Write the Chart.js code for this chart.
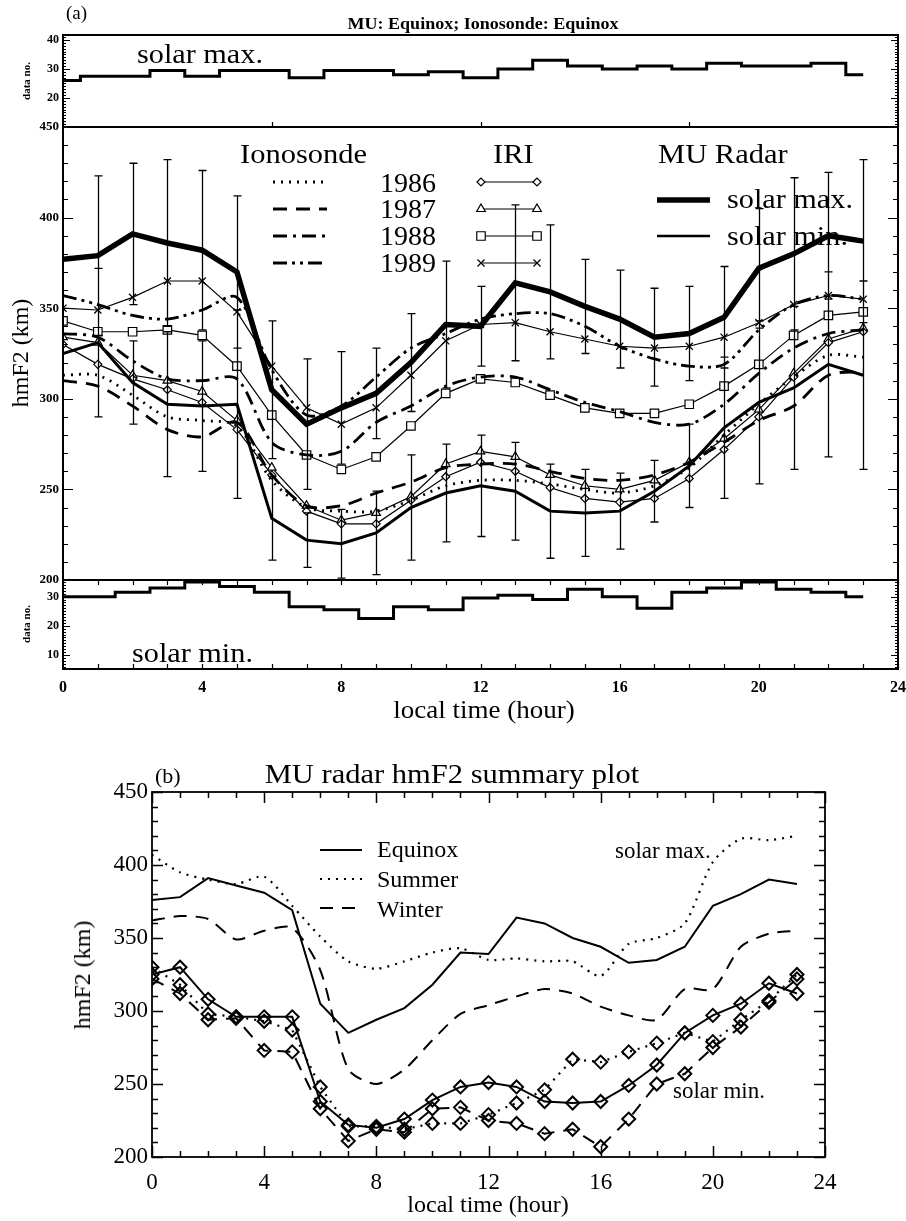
<!DOCTYPE html>
<html>
<head>
<meta charset="utf-8">
<script src="https://cdn.jsdelivr.net/npm/chart.js@4.4.0/dist/chart.umd.min.js"></script>
<style>
  body { margin: 0; background: #fff; }
  #page { position: relative; width: 906px; height: 1221px; overflow: hidden; font-family: "Liberation Serif", serif; color: #000; }
  canvas { position: absolute; left: 0; }
  .t { position: absolute; white-space: nowrap; line-height: 1; }
</style>
</head>
<body>
<div id="page">
  <canvas id="cTop" width="906" height="107" style="top:20px"></canvas>
  <canvas id="cMid" width="906" height="477" style="top:115px"></canvas>
  <canvas id="cBot" width="906" height="130" style="top:580px"></canvas>
  <canvas id="cSum" width="906" height="420" style="top:780px"></canvas>
</div>
<script>
// ---------- DATA ----------
const hours = [0, 1, 2, 3, 4, 5, 6, 7, 8, 9, 10, 11, 12, 13, 14, 15, 16, 17, 18, 19, 20, 21, 22, 23];

// (a) number of data per hour
const dataNoMax = [26, 27.5, 27.5, 29.5, 27.5, 29.5, 29.5, 27, 29.5, 29.5, 28, 29, 27, 30, 33, 31, 30, 31, 30, 32, 31, 31, 32, 28];
const dataNoMin = [30, 30, 31.5, 33, 35, 33.5, 31.5, 26.5, 25.5, 22.5, 26.5, 25.5, 29.5, 30.5, 29, 32.5, 30, 26, 31.5, 33, 35, 32.5, 31.5, 30];

// (a) MU radar hmF2 with error bars (km)
const muMax    = [377, 379, 391, 386, 382, 370, 305, 286, 295, 303, 320, 341, 340, 364, 359, 351, 344, 334, 336, 345, 372, 380, 390, 387];
const muMaxErr = [null, 44, 39, 46, 44, 42, 38, 36, 31, 25, 27, 35, 22, 43, 37, 26, 27, 27, 26, 28, 33, 42, 35, 45];
const muMin    = [325, 331, 309, 297, 296, 297, 234, 222, 220, 226, 240, 248, 252, 249, 238, 237, 238, 249, 263, 284, 298, 306, 319, 313];
const muMinErr = [null, 41, 23, 40, 36, 52, 23, 15, 19, 23, 29, 27, 28, 27, 26, 24, 21, 17, 23, 39, 45, 45, 51, 52];

// (a) Ionosonde
const iono1986 = [313, 313, 302, 290, 288, 285, 255, 240, 238, 238, 244, 252, 255, 255, 253, 250, 248, 252, 262, 280, 297, 312, 324, 323];
const iono1987 = [310, 307, 296, 283, 279, 287, 258, 241, 241, 248, 254, 262, 264, 264, 260, 256, 255, 258, 265, 276, 288, 296, 313, 315];
const iono1988 = [336, 334, 321, 311, 310, 311, 276, 269, 271, 287, 296, 307, 312, 312, 305, 298, 293, 287, 286, 297, 314, 328, 336, 338];
const iono1989 = [357, 352, 346, 344, 349, 356, 316, 291, 296, 312, 328, 336, 344, 347, 347, 340, 329, 322, 318, 319, 338, 352, 357, 355];

// (a) IRI
const iri1986 = [330, 319, 311, 305, 298, 283, 258, 238, 231, 231, 244, 257, 265, 260, 251, 245, 243, 245, 256, 272, 290, 312, 331, 337];
const iri1987 = [334, 331, 313, 310, 304, 288, 262, 241, 233, 237, 246, 264, 271, 268, 258, 252, 250, 255, 265, 278, 294, 314, 333, 339];
const iri1988 = [343, 337, 337, 338, 335, 318, 291, 269, 261, 268, 285, 303, 311, 309, 302, 295, 292, 292, 297, 307, 319, 335, 346, 348];
const iri1989 = [350, 349, 356, 365, 365, 348, 318, 295, 286, 295, 313, 332, 341, 342, 337, 333, 329, 328, 329, 334, 342, 352, 357, 355];

// (b) summary
const eqMax  = [376, 378, 391, 386, 381, 369, 305, 285, 294, 302, 318, 340, 339, 364, 360, 350, 344, 333, 335, 344, 372, 380, 390, 387];
const sumMax = [407, 395, 390, 387, 392, 372, 351, 334, 329, 334, 340, 343, 335, 336, 334, 334, 324, 346, 350, 360, 402, 418, 417, 420];
const winMax = [362, 365, 363, 349, 355, 357, 328, 260, 250, 260, 280, 298, 304, 310, 315, 312, 303, 297, 294, 315, 315, 344, 353, 355];
const eqMin  = [325, 330, 308, 296, 296, 296, 238, 222, 220, 226, 239, 248, 251, 248, 238, 237, 238, 249, 263, 285, 297, 305, 319, 312];
const sumMin = [330, 318, 298, 296, 293, 287, 248, 221, 221, 219, 223, 223, 229, 237, 246, 267, 265, 272, 278, 285, 279, 294, 307, 325];
const winMin = [322, 312, 294, 295, 273, 272, 233, 211, 219, 217, 233, 234, 225, 223, 216, 219, 207, 226, 250, 257, 275, 289, 306, 322];

const DOT = [2, 6];
const DASH = [14, 9];
const DASHDOT = [14, 6, 3, 6];
const DASHDOTDOT = [14, 5, 3, 5, 3, 5];

Chart.defaults.font.family = '"Liberation Serif", serif';
Chart.defaults.color = '#000';
Chart.defaults.animation = false;

// ---------- HELPERS ----------
const pts = arr => hours.map((h, i) => ({ x: h, y: arr[i] }));

function line(arr, o) {
  return Object.assign({
    data: pts(arr), borderColor: '#000', backgroundColor: '#000', borderWidth: 2,
    pointRadius: 0, fill: false, tension: 0
  }, o);
}

function xScale(show, size, bold, h, pad) {
  return {
    type: 'linear', min: 0, max: 24, display: show,
    grid: { display: false, drawTicks: false }, border: { display: false },
    ticks: { stepSize: 4, autoSkip: false, maxRotation: 0, padding: pad, color: '#000',
             font: { size: size, weight: bold ? 'bold' : 'normal' } },
    afterFit(s) { s.height = h; s.paddingLeft = 0; s.paddingRight = 0; }
  };
}

function yScale(min, max, step, w, size, bold, cb) {
  return {
    type: 'linear', min: min, max: max,
    grid: { display: false, drawTicks: false }, border: { display: false },
    ticks: { stepSize: step, autoSkip: false, includeBounds: false, padding: 4, color: '#000',
             font: { size: size, weight: bold ? 'bold' : 'normal' }, callback: cb },
    afterFit(s) { s.width = w; s.paddingTop = 0; s.paddingBottom = 0; }
  };
}

// box and inward tick marks
function makeFrame(cfg) {
  return {
    id: 'frame',
    afterDatasetsDraw(chart) {
      const ctx = chart.ctx, a = chart.chartArea, sx = chart.scales.x, sy = chart.scales.y;
      ctx.save();
      ctx.strokeStyle = '#000';
      ctx.setLineDash([]);
      ctx.lineWidth = cfg.lw;
      ctx.strokeRect(a.left, a.top, a.right - a.left, a.bottom - a.top);
      ctx.lineWidth = cfg.tw;
      ctx.beginPath();
      (cfg.y || []).forEach(t => {
        const n0 = Math.ceil(sy.min / t.step - 1e-6), n1 = Math.floor(sy.max / t.step + 1e-6);
        for (let n = n0; n <= n1; n++) {
          const p = Math.round(sy.getPixelForValue(n * t.step)) + 0.5;
          ctx.moveTo(a.left, p); ctx.lineTo(a.left + t.len, p);
          ctx.moveTo(a.right, p); ctx.lineTo(a.right - t.len, p);
        }
      });
      (cfg.x || []).forEach(t => {
        const n0 = Math.ceil(sx.min / t.step - 1e-6), n1 = Math.floor(sx.max / t.step + 1e-6);
        for (let n = n0; n <= n1; n++) {
          const p = Math.round(sx.getPixelForValue(n * t.step)) + 0.5;
          if (t.top) { ctx.moveTo(p, a.top); ctx.lineTo(p, a.top + t.len); }
          if (t.bottom) { ctx.moveTo(p, a.bottom); ctx.lineTo(p, a.bottom - t.len); }
        }
      });
      ctx.stroke();
      ctx.restore();
    }
  };
}

// error bars for the MU radar curves
function makeErrBars(sets) {
  return {
    id: 'errbars',
    afterDatasetsDraw(chart) {
      const ctx = chart.ctx, sx = chart.scales.x, sy = chart.scales.y;
      ctx.save();
      ctx.strokeStyle = '#000';
      ctx.lineWidth = 1.3;
      ctx.setLineDash([]);
      ctx.beginPath();
      sets.forEach(s => {
        s.mid.forEach((m, i) => {
          if (s.err[i] == null) return;
          const x = Math.round(sx.getPixelForValue(hours[i])) + 0.5;
          const yt = sy.getPixelForValue(m + s.err[i]);
          const yb = sy.getPixelForValue(m - s.err[i]);
          ctx.moveTo(x, yt); ctx.lineTo(x, yb);
          ctx.moveTo(x - 4, yt); ctx.lineTo(x + 4, yt);
          ctx.moveTo(x - 4, yb); ctx.lineTo(x + 4, yb);
        });
      });
      ctx.stroke();
      ctx.restore();
    }
  };
}

function marker(ctx, style, r, x, y, bw) {
  if (Chart.helpers && Chart.helpers.drawPoint) {
    Chart.helpers.drawPoint(ctx, { pointStyle: style, radius: r, rotation: 0, borderWidth: bw }, x, y);
  }
}

// sample lines of the legends (canvas coordinates)
function makeLegend(items) {
  return {
    id: 'samples',
    afterDraw(chart) {
      const ctx = chart.ctx;
      ctx.save();
      ctx.strokeStyle = '#000';
      ctx.fillStyle = '#fff';
      items.forEach(it => {
        ctx.lineWidth = it.w;
        ctx.setLineDash(it.dash || []);
        ctx.beginPath();
        ctx.moveTo(it.x0, it.y); ctx.lineTo(it.x1, it.y);
        ctx.stroke();
        if (it.marker) {
          ctx.setLineDash([]);
          ctx.lineWidth = 1.2;
          marker(ctx, it.marker, it.r, it.x0, it.y, 1.2);
          marker(ctx, it.marker, it.r, it.x1, it.y, 1.2);
        }
      });
      ctx.restore();
    }
  };
}

// ---------- TEXT ----------
const page = document.getElementById('page');
function txt(s, x, base, size, o) {
  o = o || {};
  const d = document.createElement('div');
  d.className = 't';
  d.textContent = s;
  d.style.fontSize = size + 'px';
  if (o.bold) d.style.fontWeight = 'bold';
  d.style.top = (base - 0.8375 * size) + 'px';
  d.style.left = x + 'px';
  const sx = o.sx || 1;
  if (o.center) {
    d.style.transform = 'translateX(-50%) scaleX(' + sx + ')';
  } else {
    d.style.transformOrigin = 'left center';
    d.style.transform = 'scaleX(' + sx + ')';
  }
  page.appendChild(d);
}
function vtxt(s, cx, cy, size, bold) {
  const d = document.createElement('div');
  d.className = 't';
  d.textContent = s;
  d.style.fontSize = size + 'px';
  if (bold) d.style.fontWeight = 'bold';
  d.style.left = cx + 'px';
  d.style.top = cy + 'px';
  d.style.transform = 'translate(-50%,-50%) rotate(-90deg)';
  page.appendChild(d);
}

// ---------- (a) TOP: data no. solar max ----------
new Chart(document.getElementById('cTop'), {
  type: 'line',
  data: { datasets: [ line(dataNoMax, { stepped: 'middle', borderWidth: 3 }) ] },
  options: {
    responsive: false,
    layout: { padding: { top: 15, bottom: 0, left: 0, right: 8 } },
    plugins: { legend: { display: false }, tooltip: { enabled: false } },
    scales: {
      x: xScale(false, 14, true, 0, 0),
      y: yScale(10, 41.7, 10, 63, 12, true, v => (v >= 20 && v <= 40) ? v : '')
    }
  },
  plugins: [ makeFrame({ lw: 2, tw: 1.2,
    y: [ { step: 1, len: 3 }, { step: 10, len: 7 } ],
    x: [ { step: 6, len: 5, bottom: true } ] }) ]
});

// ---------- (a) MIDDLE: hmF2 ----------
new Chart(document.getElementById('cMid'), {
  type: 'line',
  data: { datasets: [
    line(muMax, { borderWidth: 5.5 }),
    line(muMin, { borderWidth: 3 }),
    line(iono1986, { borderWidth: 2.8, borderDash: DOT, tension: 0.3 }),
    line(iono1987, { borderWidth: 2.8, borderDash: DASH, tension: 0.3 }),
    line(iono1988, { borderWidth: 2.8, borderDash: DASHDOT, tension: 0.3 }),
    line(iono1989, { borderWidth: 2.8, borderDash: DASHDOTDOT, tension: 0.3 }),
    line(iri1986, { borderWidth: 1.2, pointStyle: 'rectRot', pointRadius: 4, pointBorderWidth: 1.2, pointBackgroundColor: '#fff' }),
    line(iri1987, { borderWidth: 1.2, pointStyle: 'triangle', pointRadius: 5, pointBorderWidth: 1.2, pointBackgroundColor: '#fff' }),
    line(iri1988, { borderWidth: 1.2, pointStyle: 'rect', pointRadius: 6, pointBorderWidth: 1.2, pointBackgroundColor: '#fff' }),
    line(iri1989, { borderWidth: 1.2, pointStyle: 'crossRot', pointRadius: 5, pointBorderWidth: 1.3 })
  ] },
  options: {
    responsive: false,
    layout: { padding: { top: 12, bottom: 12, left: 0, right: 8 } },
    plugins: { legend: { display: false }, tooltip: { enabled: false } },
    scales: {
      x: xScale(false, 14, true, 0, 0),
      y: yScale(200, 450, 50, 63, 13, true)
    }
  },
  plugins: [
    makeErrBars([ { mid: muMax, err: muMaxErr }, { mid: muMin, err: muMinErr } ]),
    makeFrame({ lw: 2, tw: 1.2,
      y: [ { step: 10, len: 5 }, { step: 50, len: 10 } ] }),
    makeLegend([
      { x0: 273, x1: 327, y: 67, w: 2.8, dash: DOT },
      { x0: 273, x1: 327, y: 94, w: 2.8, dash: DASH },
      { x0: 273, x1: 327, y: 121, w: 2.8, dash: DASHDOT },
      { x0: 273, x1: 327, y: 148, w: 2.8, dash: DASHDOTDOT },
      { x0: 481, x1: 537, y: 67, w: 1.2, marker: 'rectRot', r: 4 },
      { x0: 481, x1: 537, y: 94, w: 1.2, marker: 'triangle', r: 5 },
      { x0: 481, x1: 537, y: 121, w: 1.2, marker: 'rect', r: 6 },
      { x0: 481, x1: 537, y: 148, w: 1.2, marker: 'crossRot', r: 5 },
      { x0: 657, x1: 710, y: 85, w: 5.5 },
      { x0: 657, x1: 710, y: 121, w: 2.5 }
    ])
  ]
});

// ---------- (a) BOTTOM: data no. solar min ----------
new Chart(document.getElementById('cBot'), {
  type: 'line',
  data: { datasets: [ line(dataNoMin, { stepped: 'middle', borderWidth: 3 }) ] },
  options: {
    responsive: false,
    layout: { padding: { top: 0, bottom: 0, left: 0, right: 8 } },
    plugins: { legend: { display: false }, tooltip: { enabled: false } },
    scales: {
      x: xScale(true, 16, true, 41, 9),
      y: yScale(5.2, 35.7, 10, 63, 12, true, v => (v >= 10 && v <= 30) ? v : '')
    }
  },
  plugins: [ makeFrame({ lw: 2, tw: 1.2,
    y: [ { step: 1, len: 3 }, { step: 10, len: 7 } ],
    x: [ { step: 1, len: 5, top: true, bottom: true } ] }) ]
});

// ---------- (b) SUMMARY ----------
new Chart(document.getElementById('cSum'), {
  type: 'line',
  data: { datasets: [
    line(eqMax, { borderWidth: 2 }),
    line(sumMax, { borderWidth: 2.2, borderDash: DOT, tension: 0.25 }),
    line(winMax, { borderWidth: 2, borderDash: [13, 9], tension: 0.25 }),
    line(eqMin, { borderWidth: 2, pointStyle: 'rectRot', pointRadius: 6.5, pointBorderWidth: 2, pointBackgroundColor: 'rgba(0,0,0,0)' }),
    line(sumMin, { borderWidth: 2.2, borderDash: DOT, pointStyle: 'rectRot', pointRadius: 6.5, pointBorderWidth: 2, pointBackgroundColor: 'rgba(0,0,0,0)' }),
    line(winMin, { borderWidth: 2, borderDash: [13, 9], pointStyle: 'rectRot', pointRadius: 6.5, pointBorderWidth: 2, pointBackgroundColor: 'rgba(0,0,0,0)' })
  ] },
  options: {
    responsive: false,
    layout: { padding: { top: 12, bottom: 0, left: 0, right: 81 } },
    plugins: { legend: { display: false }, tooltip: { enabled: false } },
    scales: {
      x: xScale(true, 23, false, 43, 12),
      y: yScale(200, 450, 50, 152, 23, false)
    }
  },
  plugins: [
    makeFrame({ lw: 1.8, tw: 1.5,
      y: [ { step: 10, len: 6 }, { step: 50, len: 11 } ],
      x: [ { step: 1, len: 6, top: true, bottom: true }, { step: 4, len: 11, top: true, bottom: true } ] }),
    makeLegend([
      { x0: 320, x1: 362, y: 70, w: 2 },
      { x0: 320, x1: 362, y: 99, w: 2.2, dash: DOT },
      { x0: 320, x1: 362, y: 128, w: 2, dash: [13, 9] }
    ])
  ]
});

// ---------- LABELS ----------
txt('(a)', 66, 19, 19);
txt('MU: Equinox; Ionosonde: Equinox', 483, 29, 17, { bold: true, center: true, sx: 1.06 });
txt('solar max.', 137, 63, 28, { sx: 1.08 });
vtxt('data no.', 26, 81, 11, true);
vtxt('hmF2 (km)', 20, 353, 24, false);
txt('Ionosonde', 240, 163, 28, { sx: 1.09 });
txt('IRI', 493, 163, 28, { sx: 1.09 });
txt('MU Radar', 658, 163, 28, { sx: 1.09 });
txt('1986', 380, 192, 28);
txt('1987', 380, 218, 28);
txt('1988', 380, 245, 28);
txt('1989', 380, 272, 28);
txt('solar max.', 727, 208, 28, { sx: 1.08 });
txt('solar min.', 727, 245, 28, { sx: 1.08 });
vtxt('data no.', 26, 624, 11, true);
txt('solar min.', 132, 662, 28, { sx: 1.08 });
txt('local time (hour)', 484, 718, 25, { center: true, sx: 1.08 });

txt('(b)', 155, 783, 22);
txt('MU radar hmF2 summary plot', 452, 783, 28, { center: true, sx: 1.09 });
txt('Equinox', 377, 857, 24);
txt('Summer', 377, 887, 24);
txt('Winter', 377, 917, 24);
txt('solar max.', 615, 858, 23);
txt('solar min.', 673, 1098, 23);
vtxt('hmF2 (km)', 82, 975, 24, false);
txt('local time (hour)', 488, 1212, 24, { center: true });
</script>
</body>
</html>
